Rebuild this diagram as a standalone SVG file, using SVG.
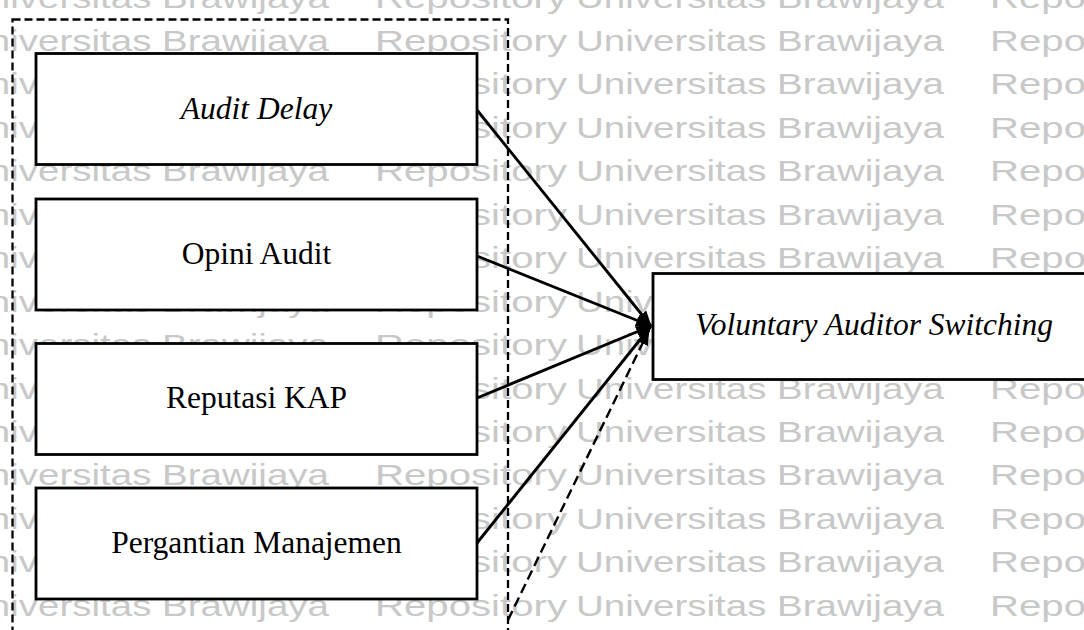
<svg xmlns="http://www.w3.org/2000/svg" xmlns:xlink="http://www.w3.org/1999/xlink" width="1084" height="630" viewBox="0 0 1084 630">
  <style>
    .wm { font-family: "Liberation Sans", Arial, sans-serif; font-size: 29px; fill: #c8c8c8; }
    .box { fill: #ffffff; stroke: #000000; stroke-width: 2.8; }
    .lbl { font-family: "Liberation Serif", "Times New Roman", serif; font-size: 31.5px; fill: #000000; text-anchor: middle; }
    .it { font-style: italic; }
    .edge { stroke: #000000; stroke-width: 2.9; fill: none; }
    .dash { stroke-dasharray: 10 5; stroke-width: 2.4; }
    .frame { fill: none; stroke: #000000; stroke-width: 2.3; stroke-dasharray: 8 4; }
  </style>
  <defs>
    <marker id="ah" markerUnits="userSpaceOnUse" markerWidth="16" markerHeight="12" refX="15" refY="6" orient="auto">
      <path d="M0,0 L16,6 L0,12 z" fill="#000000"/>
    </marker>
    <g id="wm-row">
      <text class="wm" x="-240" y="0" textLength="192" lengthAdjust="spacingAndGlyphs">Repository</text>
      <text class="wm" x="-39" y="0" textLength="368" lengthAdjust="spacingAndGlyphs">Universitas Brawijaya</text>
      <text class="wm" x="375" y="0" textLength="192" lengthAdjust="spacingAndGlyphs">Repository</text>
      <text class="wm" x="576" y="0" textLength="368" lengthAdjust="spacingAndGlyphs">Universitas Brawijaya</text>
      <text class="wm" x="990" y="0" textLength="192" lengthAdjust="spacingAndGlyphs">Repository</text>
    </g>
  </defs>
  <rect x="0" y="0" width="1084" height="630" fill="#ffffff"/>
  <g id="watermark">
    <use xlink:href="#wm-row" y="7.5"/>
    <use xlink:href="#wm-row" y="50.95"/>
    <use xlink:href="#wm-row" y="94.4"/>
    <use xlink:href="#wm-row" y="137.85"/>
    <use xlink:href="#wm-row" y="181.3"/>
    <use xlink:href="#wm-row" y="224.75"/>
    <use xlink:href="#wm-row" y="268.2"/>
    <use xlink:href="#wm-row" y="311.65"/>
    <use xlink:href="#wm-row" y="355.1"/>
    <use xlink:href="#wm-row" y="398.55"/>
    <use xlink:href="#wm-row" y="442"/>
    <use xlink:href="#wm-row" y="485.45"/>
    <use xlink:href="#wm-row" y="528.9"/>
    <use xlink:href="#wm-row" y="572.35"/>
    <use xlink:href="#wm-row" y="615.8"/>
  </g>
  <g id="frame">
    <rect class="frame" x="12.5" y="19.5" width="495.5" height="640"/>
  </g>
  <g id="connectors">
    <line class="edge" x1="477" y1="110" x2="651" y2="326" marker-end="url(#ah)"/>
    <line class="edge" x1="477" y1="256" x2="651" y2="326" marker-end="url(#ah)"/>
    <line class="edge" x1="477" y1="398" x2="651" y2="326" marker-end="url(#ah)"/>
    <line class="edge" x1="477" y1="543" x2="651" y2="326" marker-end="url(#ah)"/>
    <line class="edge dash" x1="508" y1="620" x2="649" y2="330" marker-end="url(#ah)"/>
  </g>
  <g id="node-audit-delay">
    <rect class="box" x="36" y="53.5" width="441" height="111"/>
    <text class="lbl it" x="256.5" y="118.5">Audit Delay</text>
  </g>
  <g id="node-opini-audit">
    <rect class="box" x="36" y="199" width="441" height="111"/>
    <text class="lbl" x="256.5" y="263.5">Opini Audit</text>
  </g>
  <g id="node-reputasi-kap">
    <rect class="box" x="36" y="343.5" width="441" height="111"/>
    <text class="lbl" x="256.5" y="408">Reputasi KAP</text>
  </g>
  <g id="node-pergantian-manajemen">
    <rect class="box" x="36" y="488" width="441" height="111"/>
    <text class="lbl" x="256.5" y="553">Pergantian Manajemen</text>
  </g>
  <g id="node-voluntary-auditor-switching">
    <rect class="box" x="653" y="273.5" width="442" height="106"/>
    <text class="lbl it" x="874" y="335">Voluntary Auditor Switching</text>
  </g>
</svg>
